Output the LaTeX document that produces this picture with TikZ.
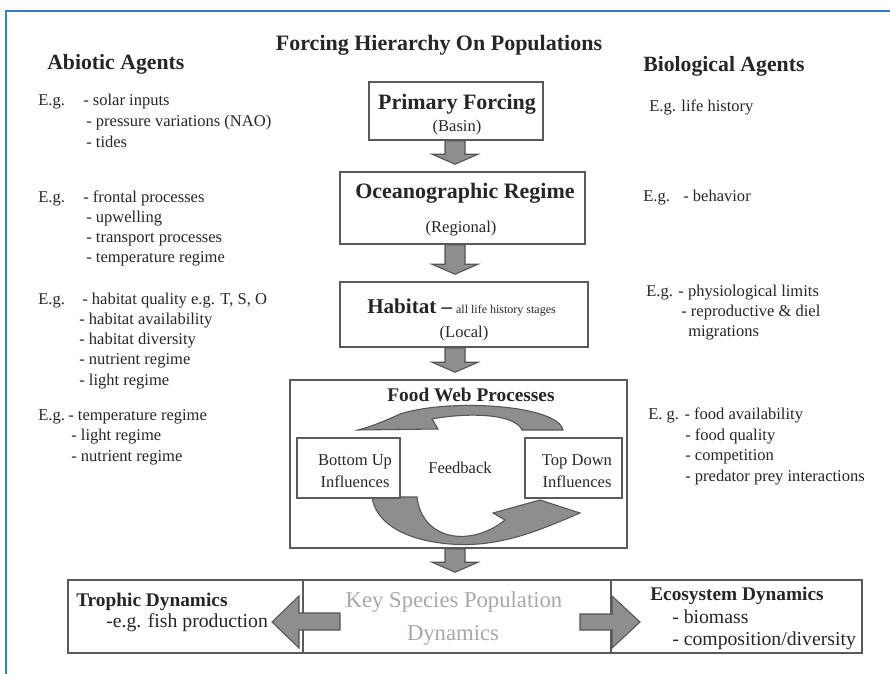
\documentclass[tikz,border=0pt]{standalone}
\usepackage{fontspec}
\setmainfont{Liberation Serif}
\usetikzlibrary{fit,calc}
\definecolor{framblue}{HTML}{2F80D0}
\definecolor{txtc}{HTML}{262626}
\definecolor{arrfill}{HTML}{8E8E8E}
\definecolor{arrline}{HTML}{555555}
\definecolor{boxline}{HTML}{5A5A5A}
\definecolor{keygray}{HTML}{A8A8A8}
\newcommand{\downblk}[2]{%
  \draw[barrow] ($(#1.south -| ax)+(-10,0)$) -- ($(#2.north -| ax)+(-10,-17)$)
    -- ($(#2.north -| ax)+(-23,-17)$) -- ($(#2.north -| ax)+(0,-7)$)
    -- ($(#2.north -| ax)+(23,-17)$) -- ($(#2.north -| ax)+(10,-17)$)
    -- ($(#1.south -| ax)+(10,0)$) -- cycle;}
\begin{document}
\begin{tikzpicture}[x=0.75pt,y=-0.75pt,
  base/.style={inner sep=0pt, text=txtc},
  body/.style={base, anchor=base west, font=\fontsize{12.4}{14}\selectfont},
  bodyc/.style={base, anchor=base, font=\fontsize{12.4}{14}\selectfont},
  botb/.style={base, anchor=base west, font=\fontsize{14.8}{17}\selectfont},
  hd/.style={base, anchor=base west, font=\fontsize{16.3}{18}\selectfont\bfseries},
  hdc/.style={base, anchor=base, font=\fontsize{16.5}{18}\selectfont\bfseries},
  midh/.style={base, anchor=base west, font=\fontsize{14.5}{16}\selectfont\bfseries},
  boxst/.style={draw=boxline, line width=1.1pt, fill=white, inner sep=0pt},
  barrow/.style={fill=arrfill, draw=arrline, line width=0.8pt, line join=miter},
]
\useasboundingbox (0,0) rectangle (890,674);
\fill[white] (0,0) rectangle (890,674);
\draw[framblue, line width=2pt] (6,674) -- (6,11) -- (890,11);
\coordinate (ax) at (455,0);
\coordinate (d1) at (303,0);
\coordinate (d2) at (611,0);

% title and headings
\node[hdc] (title) at (439,51) {Forcing Hierarchy On Populations};
\node[hd] (abio) at (47,70) {Abiotic Agents};
\node[hd] (bio) at (643,72) {Biological Agents};

% left column
\node[body] (l1e) at (38,106) {E.g.};
\node[body] (l1a) at (83,106) {- solar inputs};
\node[body] (l1b) at (86,127) {- pressure variations (NAO)};
\node[body] (l1c) at (86,147) {- tides};

\node[body] (l2e) at (38,202) {E.g.};
\node[body] (l2a) at (83,202) {- frontal processes};
\node[body] (l2b) at (86,222) {- upwelling};
\node[body] (l2c) at (86,242) {- transport processes};
\node[body] (l2d) at (86,262) {- temperature regime};

\node[body] (l3e) at (38,304) {E.g.};
\node[body] (l3a) at (82,304) {- habitat quality e.g. T, S, O};
\node[body] (l3b) at (79,324) {- habitat availability};
\node[body] (l3c) at (79,344) {- habitat diversity};
\node[body] (l3d) at (79,364) {- nutrient regime};
\node[body] (l3f) at (79,385) {- light regime};

\node[body] (l4e) at (38,420) {E.g.};
\node[body] (l4a) at (68,420) {- temperature regime};
\node[body] (l4b) at (71,440) {- light regime};
\node[body] (l4c) at (71,461) {- nutrient regime};

% right column
\node[body] (r1) at (649,112) {E.g. life history};
\node[body] (r2e) at (643,201) {E.g.};
\node[body] (r2a) at (683,201) {- behavior};
\node[body] (r3a) at (646,296) {E.g. - physiological limits};
\node[body] (r3b) at (681,316) {- reproductive \& diel};
\node[body] (r3c) at (688,336) {migrations};
\node[body] (r4a) at (648,419) {E. g. - food availability};
\node[body] (r4b) at (685,440) {- food quality};
\node[body] (r4c) at (685,460) {- competition};
\node[body] (r4d) at (685,481) {- predator prey interactions};

% central hierarchy boxes
\node[boxst, fit={(369,82) (543,140)}] (pf) {};
\node[hdc] at (457,110) {Primary Forcing};
\node[bodyc] at (457,132) {(Basin)};

\node[boxst, fit={(340,172) (585,244)}] (oc) {};
\node[hdc] at (465,199) {Oceanographic Regime};
\node[bodyc] at (461,233) {(Regional)};

\node[boxst, fit={(340,282) (588,347)}] (hab) {};
\node[base, anchor=base west, font=\fontsize{15.8}{18}\selectfont\bfseries] at (367,313)
  {Habitat –\hspace{3pt}{\mdseries\fontsize{9}{10}\selectfont all life history stages}};
\node[bodyc] at (464,337) {(Local)};

\node[boxst, fit={(290,380) (627,548)}] (fw) {};
\node[midh, anchor=base] at (471,401) {Food Web Processes};

% feedback loop arrows
\draw[barrow] (563,430) .. controls (558,405) and (450,398) .. (400,414)
  .. controls (385,421) and (370,427) .. (358,430)
  -- (438,429) -- (432,419)
  .. controls (470,412) and (515,414) .. (522,430) -- cycle;
\draw[barrow] (372,497) -- (417,497) .. controls (422,540) and (470,548) .. (505,520)
  -- (493,513) -- (540,500) -- (580,513)
  .. controls (540,530) and (500,548) .. (450,544)
  .. controls (400,540) and (375,520) .. (372,497) -- cycle;

\node[boxst, fit={(297,438) (400,498)}] (bu) {};
\node[bodyc] at (355,465) {Bottom Up};
\node[bodyc] at (355,487) {Influences};
\node[boxst, fit={(525,438) (622,498)}] (td) {};
\node[bodyc] at (577,465) {Top Down};
\node[bodyc] at (577,487) {Influences};
\node[bodyc] (fb) at (460,473) {Feedback};

% bottom box
\node[boxst, fit={(68,580) (862,653)}] (bot) {};
\draw[boxline, line width=1.1pt] (bot.north -| d1) -- (bot.south -| d1);
\draw[boxline, line width=1.1pt] (bot.north -| d2) -- (bot.south -| d2);
\node[midh] (troph) at (76,606) {Trophic Dynamics};
\node[botb] (fish) at (106,627) {-e.g. fish production};
\node[midh] (eco) at (650,600) {Ecosystem Dynamics};
\node[botb] (biom) at (672,623) {- biomass};
\node[botb] (comp) at (672,645) {- composition/diversity};
\node[base, anchor=base, text=keygray, font=\fontsize{17}{20}\selectfont] (key1) at (454,607) {Key Species Population};
\node[base, anchor=base, text=keygray, font=\fontsize{17}{20}\selectfont] (key2) at (453,640) {Dynamics};
\draw[barrow] (340,613) -- (299,613) -- (299,596) -- (272,622) -- (299,648) -- (299,630) -- (340,630) -- cycle;
\draw[barrow] (580,614) -- (612,614) -- (612,596) -- (640,622) -- (612,648) -- (612,630) -- (580,630) -- cycle;

% block arrows between levels
\downblk{pf}{oc}
\downblk{oc}{hab}
\downblk{hab}{fw}
\downblk{fw}{bot}
\end{tikzpicture}
\end{document}
